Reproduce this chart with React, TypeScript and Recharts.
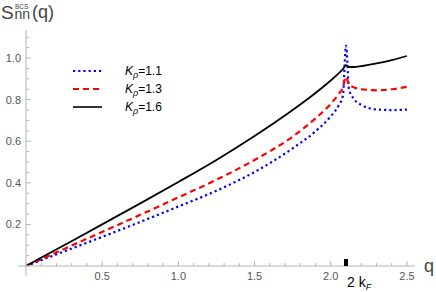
import React from 'react';
import {
  LineChart,
  Line,
  XAxis,
  YAxis,
} from 'recharts';

// q values (units of k_F)
const qValues = [0, 0.25, 0.5, 0.75, 1.0, 1.25, 1.5, 1.75, 1.9, 2.0, 2.05, 2.08, 2.1, 2.12, 2.15, 2.2, 2.3, 2.4, 2.5];
// S_nn^BCS(q) for each K_rho
const sK11 = [0, 0.07, 0.14, 0.212, 0.286, 0.362, 0.452, 0.566, 0.648, 0.72, 0.77, 0.82, 1.06, 0.85, 0.805, 0.775, 0.753, 0.75, 0.752];
const sK13 = [0, 0.082, 0.164, 0.246, 0.33, 0.415, 0.51, 0.622, 0.71, 0.78, 0.825, 0.86, 0.91, 0.872, 0.86, 0.85, 0.845, 0.85, 0.862];
const sK16 = [0, 0.1, 0.2, 0.301, 0.404, 0.51, 0.625, 0.75, 0.832, 0.892, 0.925, 0.947, 0.966, 0.958, 0.957, 0.961, 0.974, 0.99, 1.01];

const xTicks = [0, 0.1, 0.2, 0.3, 0.4, 0.5, 0.6, 0.7, 0.8, 0.9, 1.0, 1.1, 1.2, 1.3, 1.4, 1.5, 1.6, 1.7, 1.8, 1.9, 2.0, 2.1, 2.2, 2.3, 2.4, 2.5];
const yTicks = [0, 0.05, 0.1, 0.15, 0.2, 0.25, 0.3, 0.35, 0.4, 0.45, 0.5, 0.55, 0.6, 0.65, 0.7, 0.75, 0.8, 0.85, 0.9, 0.95, 1.0, 1.05, 1.1];
const xLabelTicks = [0.5, 1.0, 1.5, 2.0, 2.5];
const yLabelTicks = [0.2, 0.4, 0.6, 0.8, 1.0];
const twoKF = 2.1;

const series = [
  { key: 'k11', name: '1.1', color: '#0000ff', dash: '2.2 3' },
  { key: 'k13', name: '1.3', color: '#ff0000', dash: '6 4' },
  { key: 'k16', name: '1.6', color: '#000000', dash: undefined },
];

const data = qValues.map((q, i) => ({
  q,
  k11: sK11[i],
  k13: sK13[i],
  k16: sK16[i],
}));

const AXIS = '#b4b4b4';
const LABEL = '#555555';
const FONT = '"Liberation Sans", Arial, sans-serif';

const near = (a: number, b: number) => Math.abs(a - b) < 1e-6;

const XTick = (props: any) => {
  const { x, y, payload } = props;
  const v = payload.value;
  const major = xLabelTicks.some((t) => near(t, v));
  return (
    <g>
      <line x1={x} x2={x} y1={y} y2={y - (major ? 5 : 3)} stroke={AXIS} />
      {v === 0 && <line x1={x} x2={x} y1={y} y2={y + 10} stroke={AXIS} />}
      {near(v, twoKF) && <rect x={x - 2} y={y - 7} width={4} height={7} fill="#000" />}
      {major && (
        <text x={x} y={y + 13.5} textAnchor="middle" fill={LABEL} fontSize={11} fontFamily={FONT}>
          {v.toFixed(1)}
        </text>
      )}
    </g>
  );
};

const YTick = (props: any) => {
  const { x, y, payload } = props;
  const v = payload.value;
  const major = yLabelTicks.some((t) => near(t, v));
  return (
    <g>
      <line x1={x} x2={x + (major ? 5 : 3)} y1={y} y2={y} stroke={AXIS} />
      {v === 0 && <line x1={x - 8} x2={x} y1={y} y2={y} stroke={AXIS} />}
      {major && (
        <text x={x - 5} y={y + 4} textAnchor="end" fill={LABEL} fontSize={11} fontFamily={FONT}>
          {v.toFixed(1)}
        </text>
      )}
    </g>
  );
};

export default function App() {
  return (
    <div style={{ position: 'relative', width: 436, height: 292, fontFamily: FONT }}>
      <style>{'body{margin:0}'}</style>
      <LineChart
        width={436}
        height={292}
        data={data}
        margin={{ top: 30, right: 21, left: 0, bottom: 0 }}
      >
        <XAxis
          dataKey="q"
          type="number"
          domain={[0, 2.553]}
          ticks={xTicks}
          interval={0}
          height={26}
          tickSize={0}
          tickMargin={0}
          tickLine={false}
          axisLine={{ stroke: AXIS }}
          tick={<XTick />}
          allowDataOverflow
        />
        <YAxis
          type="number"
          domain={[0, 1.135]}
          ticks={yTicks}
          interval={0}
          width={26}
          tickSize={0}
          tickMargin={0}
          tickLine={false}
          axisLine={{ stroke: AXIS }}
          tick={<YTick />}
          allowDataOverflow
        />
        {series.map((s) => (
          <Line
            key={s.key}
            type="monotone"
            dataKey={s.key}
            stroke={s.color}
            strokeWidth={s.dash ? 2.2 : 1.8}
            strokeDasharray={s.dash}
            dot={false}
            isAnimationActive={false}
          />
        ))}
      </LineChart>

      {/* axis labels */}
      <svg width={436} height={292} style={{ position: 'absolute', left: 0, top: 0, pointerEvents: 'none' }}>
        <text x={1} y={19} fill="#444" fontFamily={FONT}>
          <tspan fontSize={19}>S</tspan>
          <tspan x={14.5} y={19} fontSize={14}>nn</tspan>
          <tspan x={15} y={8.5} fontSize={6.5}>BCS</tspan>
          <tspan x={32} y={18} fontSize={18}>(q)</tspan>
        </text>
        <text x={424} y={272} fill="#444" fontSize={18} fontFamily={FONT}>q</text>
        <text x={347} y={287} fill="#000" fontSize={14} fontFamily={FONT}>
          2 k<tspan fontSize={9} fontStyle="italic" dy={3}>F</tspan>
        </text>
      </svg>

      {/* legend */}
      <div style={{ position: 'absolute', left: 73, top: 63 }}>
        {series.map((s, i) => (
          <div key={s.key} style={{ position: 'absolute', top: i * 18, left: 0, width: 120, height: 16 }}>
            <svg width={30} height={16} style={{ position: 'absolute', left: 0, top: 0 }}>
              <line x1={0} x2={29} y1={8} y2={8} stroke={s.color} strokeWidth={s.dash ? 2 : 1.6} strokeDasharray={s.dash} />
            </svg>
            <span style={{ position: 'absolute', left: 52, top: 1, fontSize: 12, color: '#000', whiteSpace: 'nowrap' }}>
              <i>K</i>
              <sub style={{ fontSize: 9, fontStyle: 'italic' }}>ρ</sub>=
              {s.name}
            </span>
          </div>
        ))}
      </div>
    </div>
  );
}
